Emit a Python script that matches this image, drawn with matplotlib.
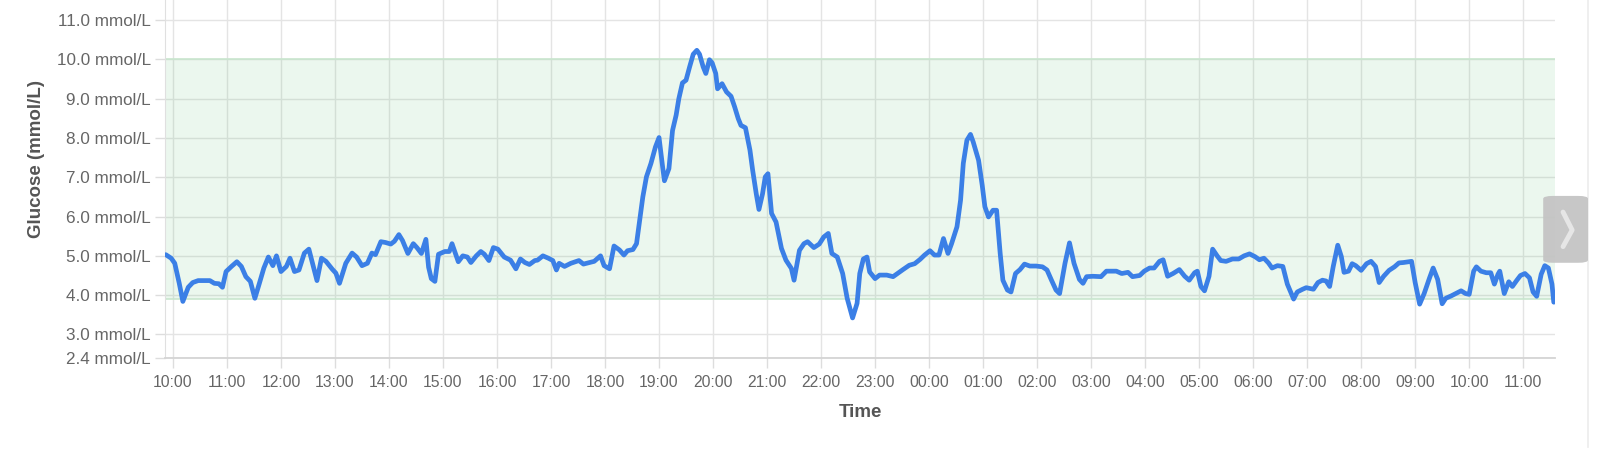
import matplotlib
matplotlib.use("Agg")
import matplotlib.pyplot as plt
from matplotlib.patches import FancyBboxPatch
from matplotlib.lines import Line2D

# sensor readings (HH:MM, mmol/L), day rolls over after midnight
times = [
    "09:52", "09:58", "10:02", "10:07", "10:11", "10:17", "10:22", "10:28", "10:41", "10:46",
    "10:51", "10:55", "10:59", "11:05", "11:11", "11:16", "11:21", "11:26", "11:31", "11:36",
    "11:41", "11:46", "11:51", "11:55", "12:00", "12:06", "12:10", "12:15", "12:20", "12:26",
    "12:31", "12:35", "12:40", "12:45", "12:50", "12:57", "13:01", "13:05", "13:12", "13:19",
    "13:24", "13:30", "13:36", "13:41", "13:45", "13:51", "13:56", "14:02",
    "14:06", "14:11", "14:15", "14:21", "14:27", "14:31", "14:36", "14:41", "14:44", "14:47",
    "14:51", "14:55", "15:02", "15:07", "15:10", "15:17", "15:22", "15:27", "15:31", "15:37",
    "15:42", "15:46", "15:51", "15:56", "16:01", "16:08", "16:15", "16:21", "16:26", "16:31",
    "16:36", "16:42", "16:45", "16:51", "16:57", "17:02", "17:06", "17:09", "17:15", "17:22",
    "17:31", "17:36", "17:43", "17:48", "17:55", "17:59", "18:05", "18:10",
    "18:16", "18:21", "18:25", "18:31", "18:35", "18:38", "18:42", "18:46", "18:51", "18:56",
    "19:00", "19:04", "19:06", "19:11", "19:15", "19:19", "19:22", "19:26", "19:30", "19:34",
    "19:38", "19:42", "19:45", "19:49", "19:52", "19:56", "19:59", "20:03", "20:05", "20:10",
    "20:15", "20:20", "20:24", "20:28", "20:31", "20:36", "20:41", "20:44", "20:48", "20:51",
    "20:55", "20:58", "21:01", "21:05", "21:10", "21:16", "21:21", "21:27", "21:30", "21:36",
    "21:41", "21:45", "21:52", "21:58", "22:03", "22:08", "22:12", "22:18", "22:24", "22:29",
    "22:35", "22:40", "22:43", "22:47", "22:51", "22:54", "23:00", "23:05", "23:13", "23:20",
    "23:26", "23:31", "23:38", "23:44", "23:50", "23:55", "00:01", "00:06", "00:11", "00:16",
    "00:21", "00:25", "00:31", "00:35", "00:38", "00:42", "00:46", "00:49", "00:55", "00:59",
    "01:02", "01:06", "01:11", "01:15", "01:19", "01:22", "01:27", "01:31", "01:36", "01:41",
    "01:46", "01:52", "01:59", "02:06", "02:11", "02:16", "02:21", "02:25", "02:31", "02:36",
    "02:41", "02:47", "02:51", "02:55", "03:02", "03:11", "03:17", "03:28", "03:34", "03:41",
    "03:46", "03:54", "03:59", "04:05", "04:10", "04:16", "04:20", "04:25", "04:31", "04:38",
    "04:44", "04:49", "04:55", "04:58", "05:02", "05:06", "05:11", "05:15", "05:20", "05:24",
    "05:30", "05:37", "05:44", "05:50", "05:56", "06:02", "06:07", "06:12", "06:17", "06:21",
    "06:27", "06:33", "06:38", "06:45", "06:49", "06:55", "06:59", "07:03", "07:07", "07:12",
    "07:17", "07:21", "07:25", "07:29", "07:34", "07:38", "07:41", "07:46", "07:50", "07:54",
    "08:00", "08:06", "08:11", "08:16", "08:20", "08:25", "08:31", "08:37", "08:42", "08:47",
    "08:53", "08:56", "09:00", "09:05", "09:10", "09:16", "09:20", "09:25", "09:30", "09:34",
    "09:40", "09:45", "09:51", "09:56", "10:00", "10:05", "10:08", "10:13", "10:19", "10:24",
    "10:28", "10:32", "10:34", "10:39", "10:44", "10:48", "10:53", "10:57", "11:02", "11:07",
    "11:11", "11:15", "11:20", "11:24", "11:28", "11:32", "11:34",
]
glucose = [
    5.03, 4.94, 4.81, 4.30, 3.84, 4.20, 4.32, 4.37, 4.37, 4.30,
    4.29, 4.20, 4.60, 4.73, 4.85, 4.73, 4.47, 4.35, 3.92, 4.30,
    4.69, 4.97, 4.75, 5.00, 4.60, 4.73, 4.94, 4.60, 4.64, 5.07,
    5.17, 4.81, 4.37, 4.94, 4.86, 4.66, 4.56, 4.30, 4.81, 5.07,
    4.97, 4.75, 4.81, 5.07, 5.03, 5.36, 5.34, 5.30,
    5.37, 5.54, 5.39, 5.06, 5.31, 5.21, 5.06, 5.42, 4.71, 4.42,
    4.35, 5.04, 5.11, 5.11, 5.31, 4.85, 5.00, 4.97, 4.83, 5.00,
    5.11, 5.04, 4.88, 5.21, 5.17, 4.97, 4.89, 4.67, 4.92, 4.83,
    4.78, 4.88, 4.89, 5.00, 4.94, 4.88, 4.64, 4.81, 4.73, 4.81,
    4.88, 4.79, 4.83, 4.86, 5.00, 4.75, 4.67, 5.25,
    5.15, 5.02, 5.13, 5.16, 5.31, 5.82, 6.50, 7.01, 7.35, 7.77,
    8.01, 7.26, 6.91, 7.22, 8.19, 8.58, 9.00, 9.40, 9.47, 9.81,
    10.13, 10.23, 10.13, 9.81, 9.64, 9.99, 9.91, 9.64, 9.25, 9.38,
    9.17, 9.06, 8.79, 8.49, 8.32, 8.26, 7.69, 7.18, 6.58, 6.18,
    6.58, 7.01, 7.09, 6.08, 5.86, 5.19, 4.89, 4.68, 4.38, 5.14,
    5.31, 5.36, 5.21, 5.30, 5.48, 5.57, 5.06, 4.97, 4.55, 3.92,
    3.42, 3.79, 4.55, 4.92, 4.97, 4.59, 4.42, 4.51, 4.51, 4.47,
    4.57, 4.65, 4.76, 4.80, 4.91, 5.02, 5.13, 5.02, 5.02, 5.44,
    5.06, 5.31, 5.74, 6.42, 7.35, 7.94, 8.09, 7.90, 7.43, 6.80,
    6.25, 5.99, 6.16, 6.16, 5.06, 4.38, 4.13, 4.08, 4.55, 4.65,
    4.79, 4.74, 4.74, 4.72, 4.64, 4.38, 4.13, 4.04, 4.81, 5.33,
    4.81, 4.40, 4.30, 4.47, 4.48, 4.47, 4.61, 4.61, 4.55, 4.58,
    4.47, 4.50, 4.61, 4.69, 4.69, 4.86, 4.90, 4.48, 4.55, 4.65,
    4.48, 4.38, 4.57, 4.61, 4.22, 4.11, 4.48, 5.17, 5.00, 4.88,
    4.86, 4.92, 4.92, 5.00, 5.05, 4.98, 4.90, 4.94, 4.82, 4.69,
    4.75, 4.73, 4.28, 3.90, 4.08, 4.15, 4.19, 4.17, 4.15, 4.32,
    4.38, 4.36, 4.22, 4.73, 5.27, 4.98, 4.58, 4.61, 4.80, 4.75,
    4.63, 4.80, 4.86, 4.73, 4.32, 4.48, 4.63, 4.72, 4.82, 4.83,
    4.85, 4.86, 4.32, 3.77, 4.04, 4.44, 4.69, 4.40, 3.78, 3.92,
    3.98, 4.04, 4.11, 4.04, 4.02, 4.61, 4.72, 4.61, 4.57, 4.57,
    4.28, 4.53, 4.61, 4.04, 4.34, 4.22, 4.38, 4.50, 4.55, 4.44,
    4.08, 3.97, 4.53, 4.75, 4.69, 4.28, 3.82,
]

target_low = 3.9
target_high = 10.0
y_ticks = [2.4, 3.0, 4.0, 5.0, 6.0, 7.0, 8.0, 9.0, 10.0, 11.0]
hour_ticks = list(range(0, 26))  # hours after 10:00 on day one

# hours after 10:00, adding a day whenever the clock wraps
x = []
day = 0
for t in times:
    h, m = map(int, t.split(":"))
    val = ((h - 10) * 60 + m + day * 1440) / 60
    if x and val < x[-1]:
        day += 1
        val += 24
    x.append(val)

plt.rcParams["font.family"] = ["Liberation Sans", "DejaVu Sans"]

fig = plt.figure(figsize=(16, 4.61), dpi=100)
ax = fig.add_axes([0.1031, 0.2234, 0.8688, 0.7766])

ax.axhspan(target_low, target_high, facecolor=(0.30, 0.72, 0.40, 0.11), edgecolor="none", zorder=1)
ax.axhline(target_low, color="#c9e6ce", lw=1.2, zorder=1.1)
ax.axhline(target_high, color="#c9e6ce", lw=1.2, zorder=1.1)

ax.plot(x, glucose, color="#3b7fe6", lw=3.4, solid_joinstyle="round", solid_capstyle="round", zorder=3)

ax.set_xlim(-0.148, 25.59)
ax.set_ylim(2.4, 11.51)

ax.set_yticks(y_ticks)
ax.set_yticklabels([f"{v:.1f} mmol/L" for v in y_ticks])
ax.set_xticks(hour_ticks)
ax.set_xticklabels([f"{(10 + h) % 24:02d}:00" for h in hour_ticks])

ax.grid(True, color="#e4e4e4", lw=1)
ax.set_axisbelow(True)
ax.tick_params(axis="both", colors="#dddddd", labelcolor="#666666", length=7, width=1)
ax.tick_params(axis="y", labelsize=12.3, pad=3)
ax.tick_params(axis="x", labelsize=11.3, pad=5)

for side in ["top", "right"]:
    ax.spines[side].set_visible(False)
ax.spines["left"].set_color("#e0e0e0")
ax.spines["bottom"].set_color("#d4d4d4")
ax.spines["bottom"].set_linewidth(1.3)

ax.set_xlabel("Time", fontsize=13.5, fontweight="bold", color="#555555", labelpad=10)
ax.set_ylabel("Glucose (mmol/L)", fontsize=13.5, fontweight="bold", color="#555555", labelpad=12)
ax.yaxis.set_label_coords(-0.0865, 0.555)

# card edge and the scroll button drawn on the right
fig.add_artist(Line2D([0.9925, 0.9925], [0.03, 1.0], color="#ececec", lw=1.2))
btn = FancyBboxPatch((0.9645, 0.43), 0.028, 0.145, boxstyle="round,pad=0,rounding_size=0.006",
                     transform=fig.transFigure, facecolor="#c4c4c4", edgecolor="none", alpha=0.95, zorder=5)
fig.add_artist(btn)
fig.add_artist(Line2D([0.9769, 0.9826, 0.9769], [0.54, 0.501, 0.465], color="#e6e6e6", lw=3.5,
                      solid_capstyle="round", solid_joinstyle="round", zorder=6))

fig.savefig("out.png", dpi=100, facecolor="white")
